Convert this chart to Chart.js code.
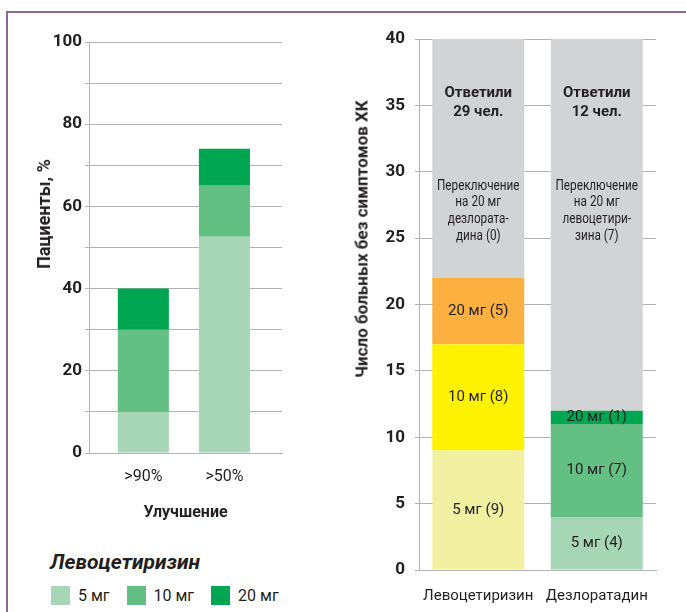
<!DOCTYPE html>
<html lang="ru">
<head>
<meta charset="utf-8">
<title>Левоцетиризин и дезлоратадин</title>
<script src="https://cdn.jsdelivr.net/npm/chart.js@4.4.1/dist/chart.umd.min.js"></script>
<style>
  html, body { margin: 0; padding: 0; background: #ffffff; }
  body {
    width: 686px; height: 612px; position: relative; overflow: hidden;
    font-family: Roboto, "Liberation Sans", sans-serif; color: #231f20;
  }
  #frame {
    position: absolute; left: 6px; top: 11px; right: -4px; bottom: -4px;
    border-top: 2px solid #8d6797; border-left: 2px solid #8d6797;
  }
  #improvementChart { position: absolute; left: 0; top: 0; }
  #remissionChart { position: absolute; left: 340px; top: 0; }
  .vtitle {
    position: absolute; white-space: nowrap; font-weight: 700; font-size: 17px;
    line-height: 1; transform: translate(-50%, -50%) rotate(-90deg);
  }
  #legendTitle {
    position: absolute; left: 50px; top: 550px; font-size: 21px; line-height: 24px;
    font-weight: 700; font-style: italic;
  }
  #legend {
    position: absolute; left: 51px; top: 586px; display: flex; gap: 17px;
    font-size: 16px; line-height: 19px;
  }
  .item { display: flex; align-items: center; gap: 8px; }
  .swatch { width: 19px; height: 19px; }
</style>
</head>
<body>
<div id="frame"></div>
<canvas id="improvementChart" width="300" height="530"></canvas>
<canvas id="remissionChart" width="346" height="612"></canvas>
<div class="vtitle" style="left:44px; top:214px; font-size:18px;">Пациенты, %</div>
<div class="vtitle" style="left:362px; top:239px;">Число больных без симптомов ХК</div>
<div id="legendTitle">Левоцетиризин</div>
<div id="legend"></div>

<script>
// Doses and colours
const doseLabels = ['5 мг', '10 мг', '20 мг'];
const greenShades = ['#a6d6b5', '#64bf84', '#00a651'];
const yellowShades = ['#f2f0a1', '#fff200', '#fbb040'];
const greyShade = '#d1d3d4';

// Left chart: share of patients by degree of improvement, %
const improvementLabels = ['>90%', '>50%'];
const improvement5mg = [10, 52.6];
const improvement10mg = [20, 12.4];
const improvement20mg = [10, 9];

// Right chart: patients free of symptoms
const drugLabels = ['Левоцетиризин', 'Дезлоратадин'];
const remission5mg = [9, 4];
const remission10mg = [8, 7];
const remission20mg = [5, 1];
const notControlled = [18, 28];
const responderCaptions = [['Ответили', '29 чел.'], ['Ответили', '12 чел.']];
const switchCaptions = [
  ['Переключение', 'на 20 мг', 'дезлората-', 'дина (0)'],
  ['Переключение', 'на 20 мг', 'левоцетири-', 'зина (7)']
];

const textColor = '#231f20';
const gridGrey = '#b3b3b3';
const FONT = 'Roboto, "Liberation Sans", sans-serif';

// Legend under the left chart
const legendEl = document.getElementById('legend');
doseLabels.forEach((dose, i) => {
  const item = document.createElement('div');
  item.className = 'item';
  const sw = document.createElement('div');
  sw.className = 'swatch';
  sw.style.background = greenShades[i];
  const tx = document.createElement('span');
  tx.textContent = dose;
  item.appendChild(sw);
  item.appendChild(tx);
  legendEl.appendChild(item);
});

// Condensed text line: drawn with a horizontal squeeze
function condensedText(ctx, text, x, y, squeeze) {
  ctx.save();
  ctx.translate(x, y);
  ctx.scale(squeeze, 1);
  ctx.fillText(text, 0, 0);
  ctx.restore();
}

// Text inside the stacked segments of the right chart
const segmentLabels = {
  id: 'segmentLabels',
  afterDatasetsDraw(chart) {
    const ctx = chart.ctx;
    ctx.save();
    ctx.fillStyle = textColor;
    ctx.textAlign = 'center';
    ctx.textBaseline = 'middle';
    chart.data.datasets.forEach((ds, di) => {
      const meta = chart.getDatasetMeta(di);
      meta.data.forEach((bar, i) => {
        if (ds.captionTop) {
          ctx.font = 'bold 15px ' + FONT;
          ds.captionTop[i].forEach((line, k) => ctx.fillText(line, bar.x, bar.y + 54 + k * 19));
          ctx.font = '14px ' + FONT;
          ds.captionNote[i].forEach((line, k) =>
            condensedText(ctx, line, bar.x, bar.y + 147 + k * 16.8, 0.84));
        } else {
          ctx.font = '15px ' + FONT;
          ctx.fillText(ds.label + ' (' + ds.data[i] + ')', bar.x, (bar.y + bar.base) / 2);
        }
      });
    });
    ctx.restore();
  }
};

function draw() {
  Chart.defaults.font.family = FONT;
  Chart.defaults.color = textColor;

  const improvementSeries = [improvement5mg, improvement10mg, improvement20mg];
  new Chart(document.getElementById('improvementChart'), {
    type: 'bar',
    data: {
      datasets: doseLabels.map((dose, i) => ({
        label: dose,
        data: improvementLabels.map((_, k) => ({ x: k + 1, y: improvementSeries[i][k] })),
        backgroundColor: greenShades[i],
        categoryPercentage: 1,
        barPercentage: 0.63
      }))
    },
    options: {
      responsive: false,
      animation: false,
      layout: { padding: { top: 42, right: 18, left: 0, bottom: 0 } },
      plugins: { legend: { display: false }, tooltip: { enabled: false } },
      scales: {
        x: {
          type: 'linear', stacked: true, offset: false, min: 0.33, max: 2.71,
          grid: { display: false, drawTicks: false, offset: false },
          border: { color: gridGrey },
          afterBuildTicks: s => { s.ticks = improvementLabels.map((_, k) => ({ value: k + 1 })); },
          ticks: {
            callback: v => improvementLabels[Math.round(v) - 1],
            font: { size: 16 }, color: textColor, padding: 14, maxRotation: 0, autoSkip: false
          },
          title: {
            display: true, text: 'Улучшение', color: textColor,
            font: { size: 16, weight: 'bold' }, padding: { top: 0, bottom: 7 }
          },
          afterFit: s => { s.height = 77; }
        },
        y: {
          stacked: true, min: 0, max: 100,
          ticks: {
            stepSize: 10, callback: v => (v % 20 === 0 ? String(v) : ''),
            font: { size: 17, weight: 'bold' }, color: textColor, padding: 3
          },
          grid: { color: gridGrey, tickLength: 4 },
          border: { color: gridGrey },
          afterFit: s => { s.width = 89; }
        }
      }
    }
  });

  const remissionSeries = [remission5mg, remission10mg, remission20mg];
  new Chart(document.getElementById('remissionChart'), {
    type: 'bar',
    data: {
      labels: drugLabels,
      datasets: [
        ...doseLabels.map((dose, i) => ({
          label: dose,
          data: remissionSeries[i],
          backgroundColor: [yellowShades[i], greenShades[i]]
        })),
        {
          label: 'Без ответа',
          data: notControlled,
          backgroundColor: greyShade,
          captionTop: responderCaptions,
          captionNote: switchCaptions
        }
      ]
    },
    options: {
      responsive: false,
      animation: false,
      datasets: { bar: { categoryPercentage: 1, barPercentage: 0.776 } },
      layout: { padding: { top: 39, right: 30, left: 0, bottom: 0 } },
      plugins: { legend: { display: false }, tooltip: { enabled: false } },
      scales: {
        x: {
          stacked: true,
          grid: { display: false, drawTicks: false },
          border: { color: gridGrey },
          ticks: { font: { size: 15 }, color: textColor, padding: 17, maxRotation: 0, autoSkip: false },
          afterFit: s => { s.height = 42; }
        },
        y: {
          stacked: true, min: 0, max: 40,
          ticks: { stepSize: 5, font: { size: 17, weight: 'bold' }, color: textColor, padding: 10 },
          grid: { color: gridGrey, tickLength: 4 },
          border: { color: gridGrey },
          afterFit: s => { s.width = 79; }
        }
      }
    },
    plugins: [segmentLabels]
  });
}

Promise.all([
  document.fonts.load('16px Roboto'),
  document.fonts.load('bold 17px Roboto')
]).then(draw, draw);
</script>
</body>
</html>
